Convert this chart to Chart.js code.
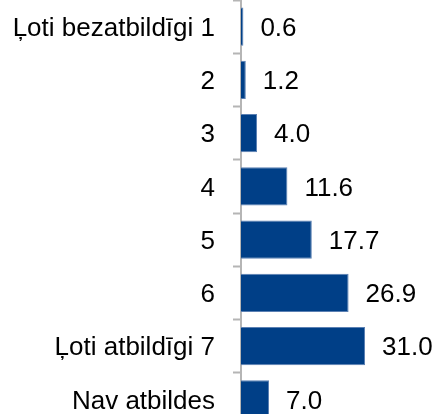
<!DOCTYPE html>
<html>
<head>
<meta charset="utf-8">
<script src="https://cdn.jsdelivr.net/npm/chart.js@4"></script>
<style>
  html, body { margin: 0; padding: 0; overflow: hidden; background: #fff; }
  #wrap { width: 436px; height: 426px; position: relative; }
</style>
</head>
<body>
<div id="wrap"><canvas id="myChart"></canvas></div>
<script>
const categorias = ['Ļoti bezatbildīgi 1', '2', '3', '4', '5', '6', 'Ļoti atbildīgi 7', 'Nav atbildes'];
const valores = [0.6, 1.2, 4.0, 11.6, 17.7, 26.9, 31.0, 7.0];
const rotulos = ['0.6', '1.2', '4.0', '11.6', '17.7', '26.9', '31.0', '7.0'];

const fonte = 'Liberation Sans, Arial, Helvetica, sans-serif';

// escreve o valor ao lado de cada barra
const valorPlugin = {
  id: 'valorPlugin',
  afterDatasetsDraw(chart) {
    const c = chart.ctx;
    const meta = chart.getDatasetMeta(0);
    c.save();
    c.font = '26px ' + fonte;
    c.fillStyle = '#000';
    c.textAlign = 'left';
    c.textBaseline = 'middle';
    meta.data.forEach(function (bar, i) {
      c.fillText(rotulos[i], bar.x + 17, bar.y + 2);
    });
    c.restore();
  }
};

const ctx = document.getElementById('myChart');

var grafico = new Chart(ctx, {
  type: 'bar',
  data: {
    labels: categorias,
    datasets: [{
      data: valores,
      backgroundColor: '#003f87',
      borderColor: '#5b80b3',
      borderWidth: 1,
      borderSkipped: 'left',
      barPercentage: 0.72,
      categoryPercentage: 1
    }]
  },
  options: {
    indexAxis: 'y',
    responsive: true,
    maintainAspectRatio: false,
    animation: false,
    layout: { padding: 0 },
    plugins: {
      legend: { display: false },
      tooltip: { enabled: false }
    },
    scales: {
      x: {
        display: false,
        min: 0,
        max: 48.75
      },
      y: {
        offset: true,
        afterFit: function (scale) {
          scale.width = 241;
          scale.paddingTop = 0;
          scale.paddingBottom = 0;
        },
        grid: {
          offset: true,
          drawOnChartArea: false,
          tickLength: 8,
          tickWidth: 2,
          tickColor: '#b5b5b5'
        },
        border: { display: true, color: '#b5b5b5', width: 2 },
        ticks: {
          color: '#000',
          padding: 18,
          labelOffset: 2,
          font: { family: fonte, size: 26 }
        }
      }
    }
  },
  plugins: [valorPlugin]
});
</script>
</body>
</html>
